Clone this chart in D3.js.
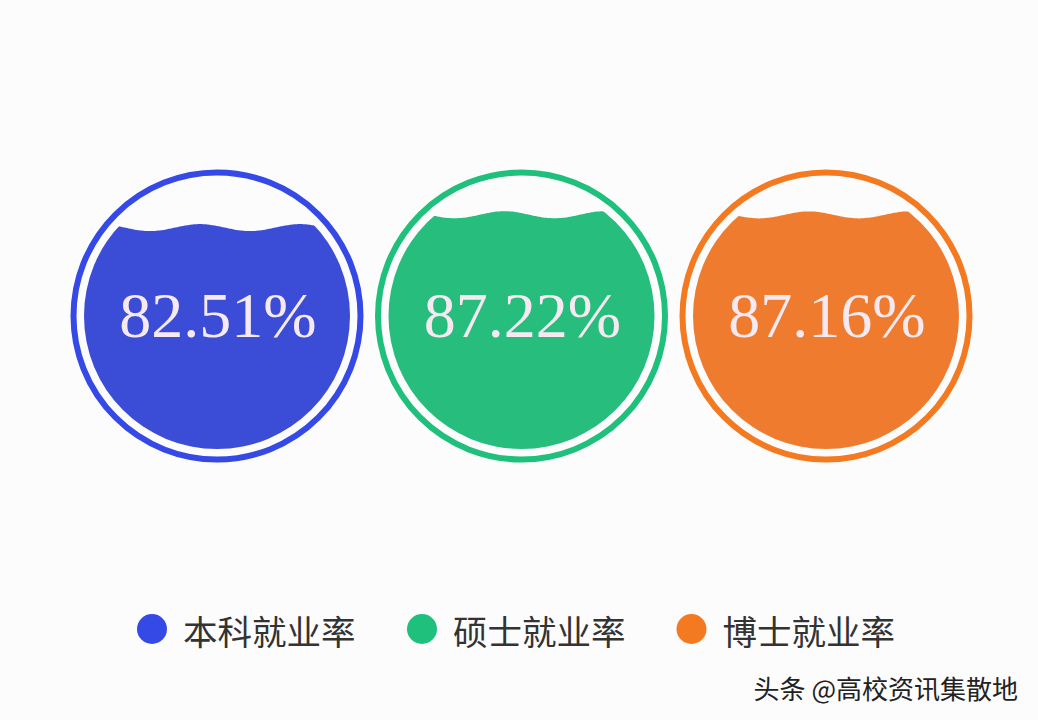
<!DOCTYPE html>
<html>
<head>
<meta charset="utf-8">
<script src="https://cdn.jsdelivr.net/npm/d3@7/dist/d3.min.js"></script>
<style>
html,body{margin:0;padding:0;background:#fcfcfd;}
svg{display:block;}
</style>
</head>
<body>
<svg id="chart" width="1038" height="720"></svg>
<script>
const categories = ["本科就业率", "硕士就业率", "博士就业率"];
const values = [82.51, 87.22, 87.16];
const fillColors = ["#3b4dd6", "#26bd7d", "#ef7b2f"];
const ringColors = ["#3449e6", "#1fbf7c", "#f47a22"];
const watermark = "头条 @高校资讯集散地";

const W = 1038, H = 720;
const svg = d3.select("#chart");
svg.append("rect").attr("width", W).attr("height", H).attr("fill", "#fcfcfd");

const cx = d3.scalePoint().domain(categories).range([217, 826]);
const cy = 316;
const ringR = 143.5, innerR = 133;
const level = d3.scaleLinear().domain([0, 100]).range([cy + 136, cy - 136]);

const waveLen = 100, amp = 3.5, phase = -17;
const defs = svg.append("defs");

categories.forEach((c, i) => {
  const x0 = cx(c);
  defs.append("clipPath").attr("id", "clip" + i)
    .append("circle").attr("cx", x0).attr("cy", cy).attr("r", innerR);

  const g = svg.append("g");
  g.append("circle").attr("cx", x0).attr("cy", cy).attr("r", ringR)
    .attr("fill", "none").attr("stroke", ringColors[i]).attr("stroke-width", 6);

  const ly = level(values[i]);
  const pts = d3.range(x0 - innerR - 5, x0 + innerR + 6, 2).map(x =>
    [x, ly - amp * Math.cos(2 * Math.PI * (x - x0 - phase) / waveLen)]);
  const area = d3.area().x(d => d[0]).y0(cy + innerR + 5).y1(d => d[1]).curve(d3.curveBasis);
  g.append("path").datum(pts).attr("d", area)
    .attr("fill", fillColors[i]).attr("clip-path", "url(#clip" + i + ")");

  g.append("text").attr("x", x0 + 1).attr("y", cy + 21)
    .attr("text-anchor", "middle")
    .attr("font-family", "'Liberation Serif', 'Times New Roman', serif")
    .attr("font-size", 64)
    .attr("fill", "#f6e9f1")
    .text(values[i].toFixed(2) + "%");
});

// legend
const legendX = [152, 422, 691.5];
const lg = svg.append("g");
categories.forEach((c, i) => {
  lg.append("circle").attr("cx", legendX[i]).attr("cy", 629).attr("r", 15).attr("fill", ringColors[i]);
  lg.append("text").attr("x", legendX[i] + 31).attr("y", 630)
    .attr("dominant-baseline", "central")
    .attr("font-family", "'Noto Sans CJK SC', sans-serif")
    .attr("font-size", 34.5).attr("fill", "#333")
    .text(c);
});

svg.append("text").attr("x", 1018).attr("y", 687)
  .attr("text-anchor", "end").attr("dominant-baseline", "central")
  .attr("font-family", "'Noto Sans CJK SC', sans-serif")
  .attr("font-size", 26).attr("fill", "#222")
  .text(watermark);
</script>
</body>
</html>
